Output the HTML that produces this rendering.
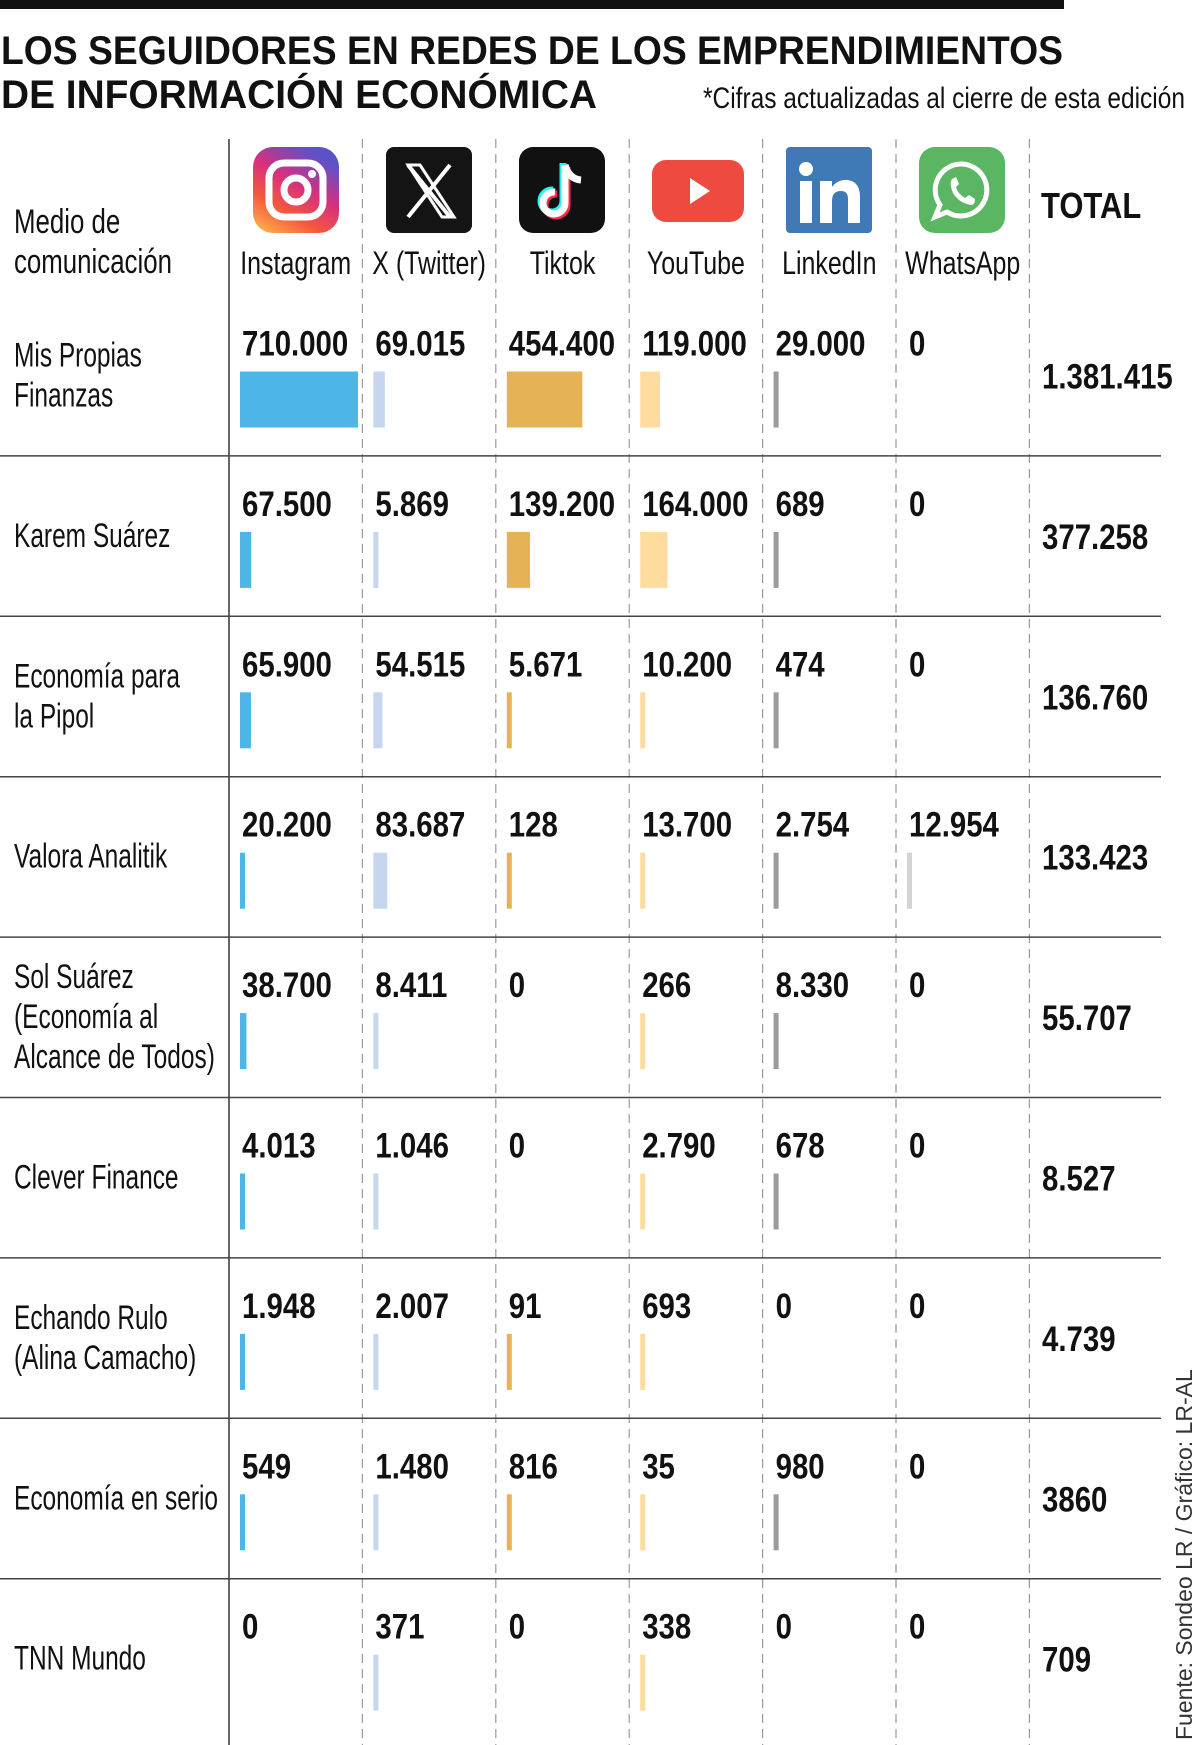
<!DOCTYPE html>
<html><head><meta charset="utf-8"><style>
html,body{margin:0;padding:0;background:#fff;}
svg{display:block;}
text{font-family:"Liberation Sans",sans-serif;fill:#111;}
</style></head><body>
<svg id="chart" width="1200" height="1745" viewBox="0 0 1200 1745" xmlns="http://www.w3.org/2000/svg">
<rect x="0" y="0" width="1064" height="9" fill="#111"/>
<text x="1" y="64" font-size="40" font-weight="bold" textLength="1062" lengthAdjust="spacingAndGlyphs">LOS SEGUIDORES EN REDES DE LOS EMPRENDIMIENTOS</text>
<text x="1" y="108" font-size="40" font-weight="bold" textLength="596" lengthAdjust="spacingAndGlyphs">DE INFORMACIÓN ECONÓMICA</text>
<text x="703" y="108" font-size="30" textLength="482" lengthAdjust="spacingAndGlyphs">*Cifras actualizadas al cierre de esta edición</text>
<g id="grid"></g>
<g id="header">
<text transform="translate(14,233) scale(0.76,1)" font-size="34">Medio de</text>
<text transform="translate(14,273) scale(0.76,1)" font-size="34">comunicación</text>
<text transform="translate(1041,218) scale(0.86,1)" font-size="36" font-weight="bold">TOTAL</text>
<g transform="translate(253,147)">
<defs><linearGradient id="ig" x1="0" y1="1" x2="0.6" y2="0"><stop offset="0" stop-color="#fdc14d"/><stop offset="0.35" stop-color="#f5573d"/><stop offset="0.65" stop-color="#d6307f"/><stop offset="1" stop-color="#5b52c9"/></linearGradient></defs>
<rect width="86" height="86" rx="20" fill="url(#ig)"/>
<rect x="16" y="16" width="54" height="54" rx="15" fill="none" stroke="#fff" stroke-width="7"/>
<circle cx="43" cy="43" r="12" fill="none" stroke="#fff" stroke-width="7"/>
<circle cx="59" cy="27" r="4" fill="#fff"/></g>
<g transform="translate(386,147)">
<rect width="86" height="86" rx="8" fill="#141414"/>
<path d="M22 18 L64 70 M64 18 L22 70" stroke="#fff" stroke-width="4"/>
<path d="M22 18 L34 18 L68 70 L56 70 Z" fill="none" stroke="#fff" stroke-width="3"/></g>
<g transform="translate(519,147)">
<rect width="86" height="86" rx="14" fill="#111"/>
<path d="M46 18 L46 56 A11 11 0 1 1 36 45" fill="none" stroke="#25f4ee" stroke-width="7" transform="translate(-2,-2)"/>
<path d="M46 18 L46 56 A11 11 0 1 1 36 45" fill="none" stroke="#fe2c55" stroke-width="7" transform="translate(2,2)"/>
<path d="M46 18 L46 56 A11 11 0 1 1 36 45 M46 18 Q50 32 62 33" fill="none" stroke="#fff" stroke-width="7"/></g>
<g transform="translate(652,160)">
<rect width="92" height="62" rx="14" fill="#ef4a3f"/>
<path d="M38 18 L58 31 L38 44 Z" fill="#fff"/></g>
<g transform="translate(786,147)">
<rect width="86" height="86" rx="4" fill="#3f7ab6"/>
<circle cx="20" cy="22" r="7" fill="#fff"/>
<rect x="14" y="34" width="12" height="42" fill="#fff"/>
<path d="M34 34 H46 V40 Q52 32 62 33 Q74 35 74 50 V76 H62 V52 Q62 44 55 44 Q46 44 46 54 V76 H34 Z" fill="#fff"/></g>
<g transform="translate(919,147)">
<rect width="86" height="86" rx="16" fill="#5ab663"/>
<path d="M43 17 A26 26 0 1 1 28 65 L16 70 L21 58 A26 26 0 0 1 43 17 Z" fill="none" stroke="#fff" stroke-width="5"/>
<path d="M33 32 Q30 36 34 46 Q40 56 52 58 Q56 58 56 52 L50 48 L46 51 Q38 46 37 40 L40 37 L37 30 Z" fill="#fff"/></g>
</g>
<g id="labels"></g>
<g id="rows"></g>
<text transform="translate(1192,1740) rotate(-90)" font-size="23" style="fill:#333">Fuente: Sondeo LR / Gráfico: LR-AL</text>
</svg>
<script>
const platforms = ["Instagram","X (Twitter)","Tiktok","YouTube","LinkedIn","WhatsApp"];
const media = [["Mis Propias","Finanzas"],["Karem Suárez"],["Economía para","la Pipol"],["Valora Analitik"],["Sol Suárez","(Economía al","Alcance de Todos)"],["Clever Finance"],["Echando Rulo","(Alina Camacho)"],["Economía en serio"],["TNN Mundo"]];
const instagram = [710000,67500,65900,20200,38700,4013,1948,549,0];
const twitter = [69015,5869,54515,83687,8411,1046,2007,1480,371];
const tiktok = [454400,139200,5671,128,0,0,91,816,0];
const youtube = [119000,164000,10200,13700,266,2790,693,35,338];
const linkedin = [29000,689,474,2754,8330,678,0,980,0];
const whatsapp = [0,0,0,12954,0,0,0,0,0];
const totals = ["1.381.415","377.258","136.760","133.423","55.707","8.527","4.739","3860","709"];
const series = [instagram,twitter,tiktok,youtube,linkedin,whatsapp];
const colors = ["#4db6e6","#c6d6ee","#e5b356","#fddc9e","#9b9a9c","#d3d3d3"];
const NS="http://www.w3.org/2000/svg";
const colLeft = i => 229 + i*133.4;
const rowTop = r => 295.5 + r*160.4;
const xScale = v => v<=0?0:Math.max(5, v/710000*118);
function mk(tag,attrs,parent){const e=document.createElementNS(NS,tag);for(const k in attrs)e.setAttribute(k,attrs[k]);parent.appendChild(e);return e;}
function fmt(v){return v.toString().replace(/\B(?=(\d{3})+(?!\d))/g,".");}
const grid=document.getElementById('grid'), labels=document.getElementById('labels'), rows=document.getElementById('rows');
let l=mk('line',{x1:229,y1:139,x2:229,y2:1745,stroke:'#333','stroke-width':1.5},grid);


for(let i=1;i<=6;i++){
  const d=mk('line',{x1:colLeft(i),y1:139,x2:colLeft(i),y2:1745,stroke:'#999','stroke-width':1.2,'stroke-dasharray':'9 6'},grid);
  
  
}
for(let r=0;r<media.length-1;r++){
  const s=mk('line',{x1:0,y1:rowTop(r+1),x2:1161,y2:rowTop(r+1),stroke:'#444','stroke-width':1.5},grid);
  
  
}
platforms.forEach((p,i)=>{
  const t=mk('text',{transform:`translate(${colLeft(i)+66.7},274) scale(0.78,1)`,'font-size':32,'text-anchor':'middle'},labels);
  t.textContent=p;
  
  
});
media.forEach((lines,r)=>{
  const top=rowTop(r), mid=top+80;
  const g=mk('g',{},rows);
  
  
  const n=lines.length, lh=40;
  lines.forEach((ln,k)=>{
    const y=mid+(k-(n-1)/2)*lh+11;
    const t=mk('text',{transform:`translate(14,${y}) scale(0.72,1)`,'font-size':34},g);
    t.textContent=ln;
    
    
  });
  series.forEach((s,i)=>{
    const x=colLeft(i);
    const t=mk('text',{transform:`translate(${x+13},${top+60}) scale(0.84,1)`,'font-size':35,'font-weight':'bold'},g);
    t.textContent=fmt(s[r]);
    
    
    const w=xScale(s[r]);
    if(w>0){
      const b=mk('rect',{x:x+11,y:top+76,width:w,height:56,fill:colors[i]},g);
      
      
    }
  });
  const tt=mk('text',{transform:`translate(1042,${mid+13}) scale(0.84,1)`,'font-size':35,'font-weight':'bold'},g);
  tt.textContent=totals[r];
  
  
});
</script>
</body></html>
